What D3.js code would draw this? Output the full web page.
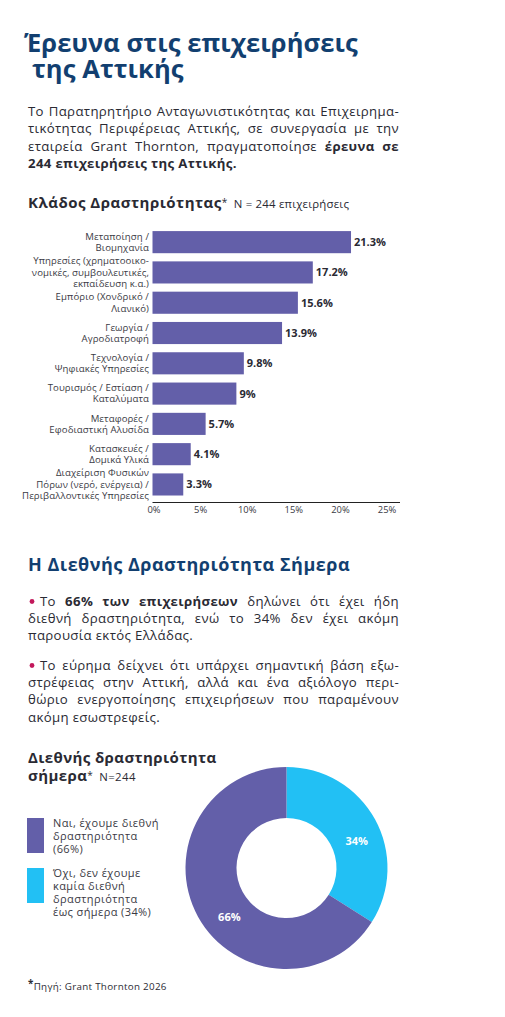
<!DOCTYPE html>
<html>
<head>
<meta charset="utf-8">
<script src="https://cdn.jsdelivr.net/npm/d3@7"></script>
<style>
  html, body { margin: 0; padding: 0; background: #fff; }
  text { font-family: "Open Sans", sans-serif; }
</style>
</head>
<body>
<div id="page"></div>
<script>
const categories = [
    ["Μεταποίηση /", "Βιομηχανία"],
    ["Υπηρεσίες (χρηματοοικο-", "νομικές, συμβουλευτικές,", "εκπαίδευση κ.α.)"],
    ["Εμπόριο (Χονδρικό /", "Λιανικό)"],
    ["Γεωργία /", "Αγροδιατροφή"],
    ["Τεχνολογία /", "Ψηφιακές Υπηρεσίες"],
    ["Τουρισμός / Εστίαση /", "Καταλύματα"],
    ["Μεταφορές /", "Εφοδιαστική Αλυσίδα"],
    ["Κατασκευές /", "Δομικά Υλικά"],
    ["Διαχείριση Φυσικών", "Πόρων (νερό, ενέργεια) /", "Περιβαλλοντικές Υπηρεσίες"]
];
const shares = [21.3, 17.2, 15.6, 13.9, 9.8, 9, 5.7, 4.1, 3.3];
const xTicks = [0, 5, 10, 15, 20, 25];

const donutNames = ["Όχι", "Ναι"];
const donutValues = [34, 66];
const legendLines = [
    ["Ναι, έχουμε διεθνή", "δραστηριότητα", "(66%)"],
    ["Όχι, δεν έχουμε", "καμία διεθνή", "δραστηριότητα", "έως σήμερα (34%)"]
];

const titleLines = ["Έρευνα στις επιχειρήσεις", "της Αττικής"];
const introLines = [
    [["Το Παρατηρητήριο Ανταγωνιστικότητας και Επιχειρημα-", 0]],
    [["τικότητας Περιφέρειας Αττικής, σε συνεργασία με την", 0]],
    [["εταιρεία Grant Thornton, πραγματοποίησε ", 0], ["έρευνα σε", 1]],
    [["244 επιχειρήσεις της Αττικής.", 1]]
];
const bullets1 = [
    [["Το ", 0], ["66% των επιχειρήσεων", 1], [" δηλώνει ότι έχει ήδη", 0]],
    [["διεθνή δραστηριότητα, ενώ το 34% δεν έχει ακόμη", 0]],
    [["παρουσία εκτός Ελλάδας.", 0]]
];
const bullets2 = [
    [["Το εύρημα δείχνει ότι υπάρχει σημαντική βάση εξω-", 0]],
    [["στρέφειας στην Αττική, αλλά και ένα αξιόλογο περι-", 0]],
    [["θώριο ενεργοποίησης επιχειρήσεων που παραμένουν", 0]],
    [["ακόμη εσωστρεφείς.", 0]]
];

const navy = "#123f70", ink = "#2a2a33", purple = "#635fa9", cyan = "#22c0f4", pink = "#c2185b";

const svg = d3.select("#page").append("svg")
    .attr("width", 505)
    .attr("height", 1017)
    .style("display", "block");

// one line of mixed regular / bold text, stretched to width when it is given
const textLine = (x, y, parts, size, width) => {
    const t = svg.append("text").attr("x", x).attr("y", y)
        .attr("font-size", size).attr("fill", ink)
        .attr("letter-spacing", 0.35);
    t.selectAll("tspan").data(parts).join("tspan")
        .attr("font-weight", d => d[1] ? 700 : 400)
        .style("white-space", "pre")
        .text(d => d[0]);
    if (width) {
        const gaps = parts.map(d => d[0]).join("").split(" ").length - 1;
        t.attr("word-spacing", (width - t.node().getComputedTextLength()) / gaps);
    }
    return t;
};

const heading = (x, y, str, size, color, spacing) => svg.append("text")
    .attr("x", x).attr("y", y)
    .attr("font-size", size).attr("font-weight", 700)
    .attr("letter-spacing", spacing)
    .attr("fill", color)
    .text(str);

const titleX = [24, 32];
titleLines.forEach((d, i) => heading(titleX[i], 52 + i * 25.5, d, 25.5, navy, 0.1));

introLines.forEach((d, i) => textLine(28, 115.5 + i * 17.6, d, 13.2, i < 3 ? 371 : null));

const h1 = heading(28, 208, "Κλάδος Δραστηριότητας", 15, ink, 0.5);
h1.append("tspan").attr("dy", -2).attr("font-weight", 400).attr("font-size", 10).text("*");
h1.append("tspan").attr("dx", 6).attr("dy", 2).attr("font-weight", 400).attr("font-size", 11.4).attr("letter-spacing", 0.2)
    .text("N = 244 επιχειρήσεις");

// bars
const x = d3.scaleLinear().domain([0, 25]).range([152.5, 385.5]);
const y = d3.scaleBand().domain(categories.map((d, i) => i))
    .range([227, 499.6]).paddingInner(0.27).paddingOuter(0.135);

svg.append("g").selectAll("rect").data(shares).join("rect")
    .attr("x", x(0))
    .attr("y", (d, i) => y(i))
    .attr("width", d => x(d) - x(0))
    .attr("height", y.bandwidth())
    .attr("fill", purple);

svg.append("g").selectAll("text").data(shares).join("text")
    .attr("x", d => x(d) + 3)
    .attr("y", (d, i) => y(i) + y.bandwidth() / 2 + 4)
    .attr("font-size", 11).attr("font-weight", 700).attr("fill", ink)
    .text(d => d + "%");

const catLabels = svg.append("g").selectAll("text").data(categories).join("text")
    .attr("text-anchor", "end")
    .attr("font-size", 9.6).attr("letter-spacing", 0.1).attr("fill", "#3a3a44");
catLabels.selectAll("tspan").data((d, i) => d.map((s, j) => ({ s, j, i, n: d.length }))).join("tspan")
    .attr("x", 149)
    .attr("y", d => y(d.i) + y.bandwidth() / 2 + 3.3 + (d.j - (d.n - 1) / 2) * (d.n > 2 ? 11.4 : 11.2))
    .text(d => d.s);

const xAxis = d3.axisBottom(x).tickValues(xTicks).tickSize(0).tickPadding(4).tickFormat(d => d + "%");
const xAxisGroup = svg.append("g").attr("transform", "translate(0,502)").call(xAxis);
xAxisGroup.select(".domain").remove();
xAxisGroup.selectAll("text").attr("font-size", 9.4).attr("dx", 1).attr("font-family", "'Open Sans', sans-serif").attr("fill", "#3a3a44");
svg.append("line").attr("x1", x(0)).attr("x2", 400).attr("y1", 502.5).attr("y2", 502.5)
    .attr("stroke", "#222").attr("stroke-width", 1);

heading(28, 571, "Η Διεθνής Δραστηριότητα Σήμερα", 18, navy, 0.5);

// bullet paragraphs
const bulletDot = (cy) => svg.append("circle").attr("cx", 32).attr("cy", cy).attr("r", 2.4).attr("fill", pink);
bulletDot(601.5);
bullets1.forEach((d, i) => textLine(i ? 28 : 40, 606 + i * 17, d, 13.2, i < 2 ? (i ? 371 : 359) : null));
bulletDot(665.5);
bullets2.forEach((d, i) => textLine(i ? 28 : 40, 670 + i * 17.2, d, 13.2, i < 3 ? (i ? 371 : 359) : null));

// donut
heading(28, 763, "Διεθνής δραστηριότητα", 15, ink, 0.4);
const h2 = heading(28, 781, "σήμερα", 15, ink, 0.4);
h2.append("tspan").attr("dy", -2).attr("font-weight", 400).attr("font-size", 10).text("*");
h2.append("tspan").attr("dx", 6).attr("dy", 2).attr("font-weight", 400).attr("font-size", 11.4).attr("letter-spacing", 0.4).text("N=244");

const pie = d3.pie().sort(null)(donutValues);
const arc = d3.arc().innerRadius(50).outerRadius(101);
const donut = svg.append("g").attr("transform", "translate(286.5,868)");
const color = d3.scaleOrdinal().domain(donutNames).range([cyan, purple]);
donut.selectAll("path").data(pie).join("path")
    .attr("d", arc)
    .attr("fill", (d, i) => color(donutNames[i]));
const labelShift = [[4, 13], [9, 17]];
donut.selectAll("text").data(pie).join("text")
    .attr("x", (d, i) => arc.centroid(d)[0] + labelShift[i][0])
    .attr("y", (d, i) => arc.centroid(d)[1] + labelShift[i][1])
    .attr("text-anchor", "middle")
    .attr("font-size", 11).attr("font-weight", 700).attr("fill", "#fff")
    .text(d => d.value + "%");

// legend
const legendTop = [818, 868], legendFill = [purple, cyan];
legendLines.forEach((lines, k) => {
    svg.append("rect").attr("x", 27).attr("y", legendTop[k]).attr("width", 17).attr("height", 35)
        .attr("fill", legendFill[k]);
    lines.forEach((s, i) => svg.append("text")
        .attr("x", 53).attr("y", legendTop[k] + 8.5 + i * 13)
        .attr("font-size", 11).attr("letter-spacing", 0.4).attr("fill", "#3a3a44")
        .text(s));
});

// source
const src = svg.append("text").attr("x", 28).attr("y", 990).attr("font-size", 9.8).attr("letter-spacing", 0.3).attr("fill", ink);
src.append("tspan").attr("dy", -3).attr("font-weight", 700).text("*");
src.append("tspan").attr("dy", 3).attr("font-weight", 400).text("Πηγή: Grant Thornton 2026");
</script>
</body>
</html>
